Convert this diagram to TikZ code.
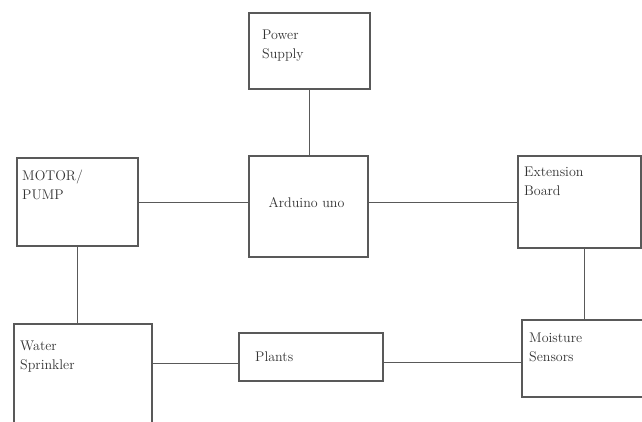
\documentclass[tikz,border=0pt]{standalone}
\usetikzlibrary{positioning, calc}

\begin{document}
\begin{tikzpicture}[x=1pt, y=-1pt]
        \tikzstyle{block} = [rectangle, draw=black!65, line width=1.1pt, inner sep=0pt, outer sep=0pt]
        \tikzstyle{tag} = [anchor=north west, inner sep=0pt, align=left, text=black!80, font=\fontsize{14}{19}\selectfont]
        \tikzstyle{line} = [draw=black!65, line width=1pt]

        \clip (0,0) rectangle (642,421);
        \fill [white] (0,0) rectangle (642,421);

        \node (power) [block, minimum width=121pt, minimum height=76pt, label={[tag, xshift=13pt, yshift=-17pt]north west:{Power\\Supply}}] at (309.5,51) {};
        \node (arduino) [block, minimum width=119pt, minimum height=101pt, label={[tag, anchor=center, xshift=-2pt, yshift=4pt]center:{Arduino uno}}] at (308.5,206.5) {};
        \node (motor) [block, minimum width=121pt, minimum height=88pt, label={[tag, xshift=5pt, yshift=-12pt]north west:{MOTOR/\\PUMP}}] at (77.5,202) {};
        \node (extension) [block, minimum width=123pt, minimum height=92pt, label={[tag, xshift=6pt, yshift=-11pt]north west:{Extension\\Board}}] at (579.5,202) {};
        \node (sprinkler) [block, minimum width=138pt, minimum height=104pt, label={[tag, xshift=6pt, yshift=-17pt]north west:{Water\\Sprinkler}}] at (83,376) {};
        \node (plants) [block, minimum width=144pt, minimum height=48pt, label={[tag, anchor=west, xshift=16pt]west:{Plants}}] at (311,357) {};
        \node (moisture) [block, minimum width=124pt, minimum height=77pt, label={[tag, xshift=7pt, yshift=-13pt]north west:{Moisture\\Sensors}}] at (584,358.5) {};

        \coordinate (pl) at ([yshift=-6pt]plants.west);
        \coordinate (pr) at ([yshift=-5pt]plants.east);

        \draw [line] (power.south) -- (power.south |- arduino.north);
        \draw [line] (motor.east) -- (motor.east -| arduino.west);
        \draw [line] (arduino.east |- extension.west) -- (extension.west);
        \draw [line] (motor.south) -- (motor.south |- sprinkler.north);
        \draw [line] (moisture.north |- extension.south) -- (moisture.north);
        \draw [line] (pl -| sprinkler.east) -- (pl);
        \draw [line] (pr) -- (pr -| moisture.west);
    \end{tikzpicture}
\end{document}
